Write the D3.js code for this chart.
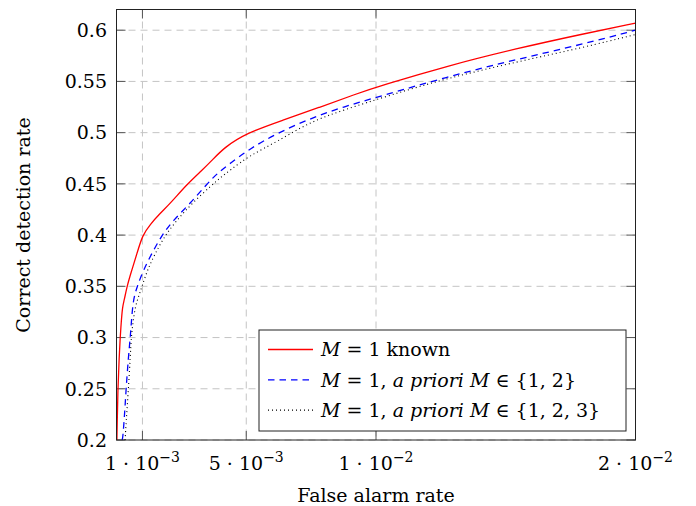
<!DOCTYPE html>
<html>
<head>
<meta charset="utf-8">
<script src="https://cdn.jsdelivr.net/npm/d3@7"></script>
<style>
    body { margin: 0; background: #fff; }
</style>
</head>
<body>
<div id="my_dataviz"></div>
<script>
// tick values / labels
const xTickVals = [0.001, 0.005, 0.01, 0.02];
const xTickMant = ["1", "5", "1", "2"];
const xTickExp = ["\u22123", "\u22123", "\u22122", "\u22122"];
const yTickVals = [0.2, 0.25, 0.3, 0.35, 0.4, 0.45, 0.5, 0.55, 0.6];

// M = 1 known
const redX = [0.000015, 0.000027, 0.000054, 0.000104, 0.000142, 0.00018, 0.00023, 0.0003, 0.0004, 0.00059, 0.00079, 0.001, 0.0013, 0.00168, 0.00207, 0.00272, 0.0033, 0.00365, 0.00415, 0.005, 0.0064, 0.0078, 0.0092, 0.0102, 0.0128, 0.0154, 0.018, 0.02];
const redY = [0.2, 0.2166, 0.25, 0.2812, 0.3, 0.3141, 0.33, 0.3366, 0.3496, 0.3659, 0.3821, 0.4, 0.4105, 0.4212, 0.4309, 0.4498, 0.4634, 0.4722, 0.4855, 0.4995, 0.512, 0.5245, 0.5375, 0.546, 0.5655, 0.582, 0.5965, 0.6068];

// M = 1, a priori M in {1,2}
const blueX = [0.00022, 0.00025, 0.00033, 0.00037, 0.00046, 0.00053, 0.00057, 0.00064, 0.00079, 0.00104, 0.00136, 0.00175, 0.00219, 0.00284, 0.00348, 0.0039, 0.00438, 0.00515, 0.00618, 0.00746, 0.00874, 0.01015, 0.01276, 0.01537, 0.01797, 0.02];
const blueY = [0.2, 0.2032, 0.2324, 0.25, 0.2812, 0.3, 0.3138, 0.3366, 0.3496, 0.3659, 0.3821, 0.4, 0.4146, 0.4309, 0.4498, 0.4607, 0.47, 0.4846, 0.4992, 0.5138, 0.5252, 0.5354, 0.5546, 0.5712, 0.5863, 0.6];

// M = 1, a priori M in {1,2,3}
const blackX = [0.00033, 0.00037, 0.00046, 0.00053, 0.00057, 0.00063, 0.00072, 0.00087, 0.00098, 0.00119, 0.00149, 0.00188, 0.00233, 0.0029, 0.00372, 0.004, 0.00438, 0.00515, 0.00618, 0.00746, 0.00874, 0.01054, 0.01276, 0.01537, 0.01797, 0.02];
const blackY = [0.2, 0.2163, 0.25, 0.2812, 0.3, 0.314, 0.33, 0.3415, 0.3496, 0.3659, 0.3821, 0.4, 0.4146, 0.4309, 0.4498, 0.456, 0.4634, 0.478, 0.491, 0.5106, 0.522, 0.5366, 0.5532, 0.5688, 0.583, 0.5958];

const FONT = "DejaVu Serif";

function chart() {
    var margin = { top: 9.5, right: 60.5, bottom: 66, left: 116.5 },
        width = 696 - margin.left - margin.right,
        height = 506 - margin.top - margin.bottom;

    var svg = d3.select("#my_dataviz")
        .append("svg")
        .attr("width", 696)
        .attr("height", 506)
        .attr("font-family", FONT)
        .append("g")
        .attr("transform", "translate(" + margin.left + "," + margin.top + ")");

    var x = d3.scaleLinear().domain([0, 0.02]).range([0, width]);
    var y = d3.scaleLinear().domain([0.2, 0.6202]).range([height, 0]);

    // grid
    svg.append("g")
        .selectAll("line.vg")
        .data(xTickVals)
        .enter().append("line")
        .attr("x1", d => x(d)).attr("x2", d => x(d))
        .attr("y1", 0).attr("y2", height)
        .attr("stroke", "#c4c4c4").attr("stroke-dasharray", "7,5");
    svg.append("g")
        .selectAll("line.hg")
        .data(yTickVals)
        .enter().append("line")
        .attr("x1", 0).attr("x2", width)
        .attr("y1", d => y(d)).attr("y2", d => y(d))
        .attr("stroke", "#c4c4c4").attr("stroke-dasharray", "7,5");

    // inner ticks on all four sides
    var tl = 9;
    var ticks = svg.append("g").attr("stroke", "#555").attr("stroke-width", 1);
    xTickVals.forEach(v => {
        ticks.append("line").attr("x1", x(v)).attr("x2", x(v)).attr("y1", height).attr("y2", height - tl);
        ticks.append("line").attr("x1", x(v)).attr("x2", x(v)).attr("y1", 0).attr("y2", tl);
    });
    yTickVals.forEach(v => {
        ticks.append("line").attr("x1", 0).attr("x2", tl).attr("y1", y(v)).attr("y2", y(v));
        ticks.append("line").attr("x1", width).attr("x2", width - tl).attr("y1", y(v)).attr("y2", y(v));
    });

    // tick labels
    var xl = svg.append("g")
        .selectAll("text")
        .data(xTickVals)
        .enter().append("text")
        .attr("x", d => x(d))
        .attr("y", height + 29.5)
        .style("font-size", "19px")
        .style("text-anchor", "middle");
    xl.append("tspan").text((d, i) => xTickMant[i] + " \u00b7 10");
    xl.append("tspan")
        .attr("dy", -8)
        .style("font-size", "14px")
        .text((d, i) => xTickExp[i]);

    svg.append("g")
        .selectAll("text")
        .data(yTickVals)
        .enter().append("text")
        .attr("x", -9.5)
        .attr("y", d => y(d))
        .attr("dy", "0.36em")
        .style("font-size", "19px")
        .style("text-anchor", "end")
        .text(d => String(d));

    // axis titles
    svg.append("text")
        .attr("x", width / 2)
        .attr("y", height + 62)
        .style("font-size", "19px")
        .style("text-anchor", "middle")
        .text("False alarm rate");
    svg.append("text")
        .attr("transform", "translate(" + (-87) + "," + (225 - margin.top) + ") rotate(-90)")
        .style("font-size", "19px")
        .style("text-anchor", "middle")
        .text("Correct detection rate");

    // curves
    svg.append("clipPath").attr("id", "clip")
        .append("rect").attr("width", width).attr("height", height);

    var line = d3.line()
        .curve(d3.curveBasis)
        .x(d => x(d[0]))
        .y(d => y(d[1]));

    var series = [
        { xs: redX, ys: redY, color: "#ff0000", dash: null, w: 1.3 },
        { xs: blueX, ys: blueY, color: "#0000ff", dash: "6.5,5", w: 1.3 },
        { xs: blackX, ys: blackY, color: "#000", dash: "1,3", w: 1.1 }
    ];
    var plot = svg.append("g").attr("clip-path", "url(#clip)");
    series.forEach(s => {
        plot.append("path")
            .datum(s.xs.map((v, i) => [v, s.ys[i]]))
            .attr("d", line)
            .attr("fill", "none")
            .attr("stroke", s.color)
            .attr("stroke-width", s.w)
            .attr("stroke-dasharray", s.dash);
    });

    // frame
    svg.append("rect")
        .attr("width", width).attr("height", height)
        .attr("fill", "none").attr("stroke", "#222").attr("stroke-width", 1);

    // legend
    var lg = svg.append("g").attr("transform", "translate(" + (259 - margin.left) + "," + (330 - margin.top) + ")");
    lg.append("rect")
        .attr("width", 367).attr("height", 101)
        .attr("fill", "#fff").attr("stroke", "#222").attr("stroke-width", 1);
    var rows = [
        [["M", true], [" = 1 known", false]],
        [["M", true], [" = 1, ", false], ["a priori", true], [" ", false], ["M", true], [" \u2208 {1, 2}", false]],
        [["M", true], [" = 1, ", false], ["a priori", true], [" ", false], ["M", true], [" \u2208 {1, 2, 3}", false]]
    ];
    series.forEach((s, i) => {
        var cy = 19.5 + i * 30.3;
        lg.append("line")
            .attr("x1", 9).attr("x2", 54)
            .attr("y1", cy).attr("y2", cy)
            .attr("stroke", s.color)
            .attr("stroke-width", s.w)
            .attr("stroke-dasharray", s.dash);
        var t = lg.append("text")
            .attr("x", 62)
            .attr("y", cy)
            .attr("dy", "0.36em")
            .style("font-size", "19px")
            .attr("xml:space", "preserve");
        rows[i].forEach(p => {
            t.append("tspan")
                .style("font-style", p[1] ? "italic" : "normal")
                .text(p[0]);
        });
    });
}

chart();
</script>
</body>
</html>
